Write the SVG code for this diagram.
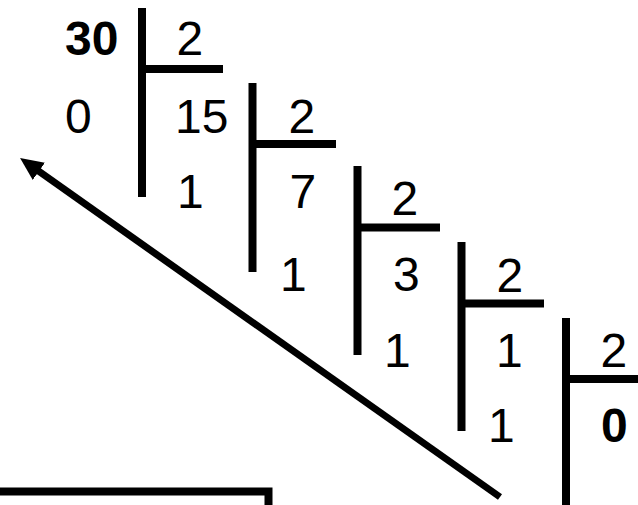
<svg xmlns="http://www.w3.org/2000/svg" width="638" height="505" viewBox="0 0 638 505">
<style>
.b{stroke:#000;stroke-width:8;fill:none;stroke-linecap:butt}
.t{font-family:"Liberation Sans",Arial,sans-serif;font-size:48px;fill:#000}
.bold{font-weight:bold}
</style>
<defs>
<marker id="ah" viewBox="0 0 23 21" refX="8" refY="10.5" markerWidth="23" markerHeight="21" markerUnits="userSpaceOnUse" orient="auto">
<path d="M0,0 L23,10.5 L0,21 Z" fill="#000"/>
</marker>
</defs>
<rect width="638" height="505" fill="#fff"/>
<g id="div1">
<path class="b" d="M142,8 V197 M142,69 H223"/>
<text class="t bold" x="65" y="55">30</text>
<text class="t" x="176.5" y="55">2</text>
<text class="t" x="65" y="133">0</text>
</g>
<g id="div2">
<path class="b" d="M252.5,83 V272 M252.5,144 H336"/>
<text class="t" x="175" y="133">15</text>
<text class="t" x="288.5" y="133">2</text>
<text class="t" x="177" y="208">1</text>
</g>
<g id="div3">
<path class="b" d="M357.5,166 V355 M357.5,227.5 H440"/>
<text class="t" x="289.5" y="208">7</text>
<text class="t" x="391.5" y="215">2</text>
<text class="t" x="280" y="291">1</text>
</g>
<g id="div4">
<path class="b" d="M461.5,242 V431 M461.5,303.5 H544"/>
<text class="t" x="393" y="291">3</text>
<text class="t" x="496.5" y="292">2</text>
<text class="t" x="384" y="367">1</text>
</g>
<g id="div5">
<path class="b" d="M566,318 V505 M566,379 H638"/>
<text class="t" x="496" y="367">1</text>
<text class="t" x="600.5" y="367">2</text>
<text class="t" x="488" y="442">1</text>
<text class="t bold" x="601" y="442">0</text>
</g>
<g id="connectors">
<path d="M500,497 L32.3,166.7" stroke="#000" stroke-width="7" fill="none" marker-end="url(#ah)"/>
</g>
<path class="b" d="M0,491.5 H268.5 V505" stroke-width="7"/>
</svg>
